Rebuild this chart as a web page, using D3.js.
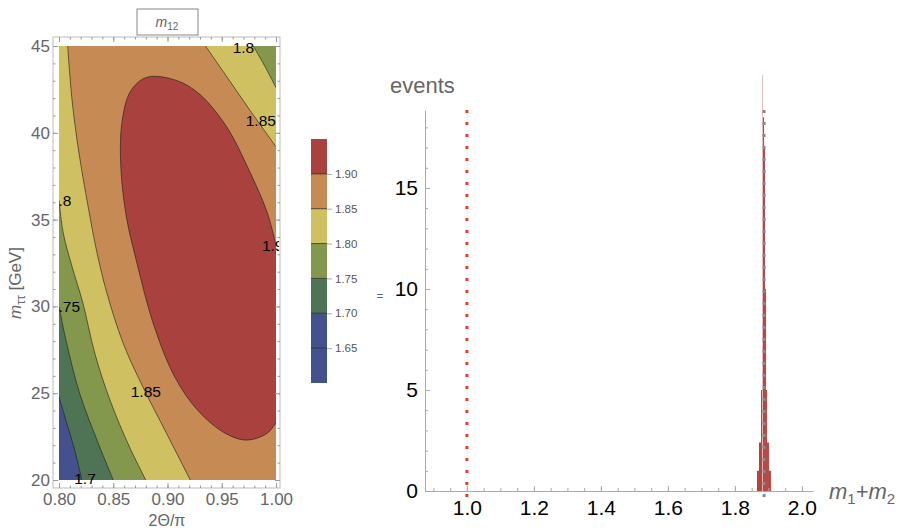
<!DOCTYPE html>
<html><head><meta charset="utf-8">
<script src="https://cdn.jsdelivr.net/npm/d3@7"></script>
<style>body{margin:0;background:#fff}svg{font-family:"Liberation Sans",Arial,sans-serif}</style>
</head><body><svg id="c" width="905" height="531"></svg>
<script>
// ---------- data: left contour panel ----------
const levels = [1.65, 1.70, 1.75, 1.80, 1.85, 1.90];
const colorbarEdges = [1.60, 1.65, 1.70, 1.75, 1.80, 1.85, 1.90, 1.95];
const colorbarColors = ["#43518d", "#43518d", "#4f7355", "#83984d", "#cfc162", "#c68a55", "#a9423e"];
const colorbarTicks = [1.65, 1.70, 1.75, 1.80, 1.85, 1.90];
const xTicksL = [0.80, 0.85, 0.90, 0.95, 1.00];
const yTicksL = [20, 25, 30, 35, 40, 45];
// contour lines, [2Θ/π, m_ττ]
const c170 = [[0.800, 24.8], [0.807, 23.3], [0.815, 21.6], [0.821, 20.0]];
const c175 = [[0.800, 30.0], [0.807, 27.9], [0.819, 25.0], [0.835, 22.3], [0.850, 20.0]];
const c180a = [[0.800, 36.1], [0.804, 34.2], [0.812, 32.3], [0.822, 30.2], [0.833, 27.3], [0.847, 24.6], [0.865, 21.9], [0.880, 20.0]];
const c180b = [[0.979, 45.0], [0.990, 43.8], [1.000, 42.6]];
const c185a = [[0.808, 45.0], [0.812, 41.9], [0.818, 39.0], [0.827, 35.7], [0.835, 33.1], [0.844, 30.8], [0.859, 27.9], [0.877, 25.4], [0.899, 22.7], [0.921, 20.0]];
const c185b = [[0.935, 45.0], [0.955, 43.2], [0.976, 41.3], [1.000, 39.2]];
const c190 = [[1.000, 33.5], [0.992, 35.4], [0.974, 38.0], [0.955, 40.3], [0.930, 42.2], [0.909, 43.0], [0.881, 43.2], [0.866, 42.4], [0.858, 40.6], [0.857, 38.0], [0.862, 35.2], [0.871, 32.7], [0.888, 28.8], [0.907, 25.9], [0.928, 24.0], [0.953, 22.7], [0.973, 22.3], [0.992, 22.7], [1.000, 23.3]];
// contour labels (as visible in the picture; edge labels are cut by the frame)
const contourLabels = [
  {t: "1.8", x: 0.970, y: 44.9, a: "middle"}, {t: "1.85", x: 0.986, y: 40.7, a: "middle"},
  {t: ".8", x: 0.7995, y: 36.1, a: "start"}, {t: "1.9", x: 0.987, y: 33.5, a: "start"},
  {t: ".75", x: 0.7995, y: 30.0, a: "start"}, {t: "1.85", x: 0.880, y: 25.1, a: "middle"},
  {t: "1.7", x: 0.824, y: 20.1, a: "middle"}
];
// ---------- data: right histogram ----------
const binWidth = 0.003;
const binLefts = [1.866, 1.869, 1.872, 1.875, 1.878, 1.881, 1.884, 1.887, 1.890, 1.893, 1.896, 1.899, 1.902, 1.905];
const binCounts = [1.0, 1.0, 2.4, 2.4, 5.0, 20.6, 18.5, 17.0, 10.0, 5.0, 2.4, 2.4, 1.0, 1.0];
const refValue = 1.0;
const trueValue = 1.887;
const xTicksR = [1.0, 1.2, 1.4, 1.6, 1.8, 2.0];
const yTicksR = [0, 5, 10, 15];

const svg = d3.select("#c");
const gray = "#666";

// ================= LEFT PANEL =================
const xL = d3.scaleLinear().domain([0.8, 1.0]).range([59, 276]);
const yL = d3.scaleLinear().domain([20, 45]).range([480, 46]);
const frame = {l: 53, t: 37, r: 280, b: 488};

svg.append("defs").html(
  `<clipPath id="plotclip"><rect x="${xL(0.8)}" y="${yL(45)}" width="${xL(1)-xL(0.8)}" height="${yL(20)-yL(45)}"/></clipPath>` +
  `<clipPath id="labclip"><rect x="57" y="${frame.t}" width="${279-57}" height="${frame.b-frame.t}"/></clipPath>`);

const lg = d3.line().x(d => xL(d[0])).y(d => yL(d[1])).curve(d3.curveCatmullRom.alpha(0.5));
const P = (x, y) => `L${xL(x)},${yL(y)}`;
const cont = pts => lg(pts).replace(/^M/, "L");

const gC = svg.append("g").attr("clip-path", "url(#plotclip)");
gC.append("rect").attr("x", xL(0.8)).attr("y", yL(45)).attr("width", xL(1) - xL(0.8)).attr("height", yL(20) - yL(45)).attr("fill", colorbarColors[1]);
const bands = [
  {fill: colorbarColors[2], d: lg(c170) + P(1, 20) + P(1, 45) + P(0.8, 45) + "Z"},
  {fill: colorbarColors[3], d: lg(c175) + P(1, 20) + P(1, 45) + P(0.8, 45) + "Z"},
  {fill: colorbarColors[4], d: lg(c180a) + P(1, 20) + P(1, 42.6) + cont(c180b.slice().reverse()) + P(0.8, 45) + "Z"},
  {fill: colorbarColors[5], d: lg(c185a) + P(1, 20) + P(1, 39.2) + cont(c185b.slice().reverse()) + "Z"},
  {fill: colorbarColors[6], d: lg(c190) + "Z"}
];
gC.selectAll("path.band").data(bands).join("path").attr("class", "band")
  .attr("d", d => d.d).attr("fill", d => d.fill).attr("stroke", "none");
gC.selectAll("path.cline").data([c170, c175, c180a, c180b, c185a, c185b, c190]).join("path").attr("class", "cline")
  .attr("d", d => lg(d)).attr("fill", "none").attr("stroke", "#1a1a1a").attr("stroke-opacity", 0.75).attr("stroke-width", 0.8);

svg.append("g").attr("clip-path", "url(#labclip)").selectAll("text").data(contourLabels).join("text")
  .attr("x", d => xL(d.x)).attr("y", d => yL(d.y)).attr("dy", "0.36em").attr("text-anchor", d => d.a)
  .attr("font-size", 15.5).attr("fill", "#000").text(d => d.t);

// frame with ticks
function styleAx(g, labels) {
  g.select(".domain").remove();
  g.selectAll(".tick line").attr("stroke", "#999");
  g.selectAll(".tick text").attr("font-size", 17).attr("fill", gray).attr("font-family", "Liberation Sans, Arial");
  if (!labels) g.selectAll(".tick text").remove();
}
svg.append("rect").attr("x", frame.l).attr("y", frame.t).attr("width", frame.r - frame.l).attr("height", frame.b - frame.t)
  .attr("fill", "none").attr("stroke", "#bbb").attr("stroke-width", 1);
const minorXL = d3.range(0.80, 1.001, 0.01);
const minorYL = d3.range(20, 45.01, 1);
svg.append("g").attr("transform", `translate(0,${frame.b})`).call(d3.axisBottom(xL).tickValues(xTicksL).tickFormat(d3.format(".2f")).tickSize(-5).tickPadding(5)).call(g => styleAx(g, true));
svg.append("g").attr("transform", `translate(0,${frame.b})`).call(d3.axisBottom(xL).tickValues(minorXL).tickSize(-2.5)).call(g => styleAx(g, false));
svg.append("g").attr("transform", `translate(0,${frame.t})`).call(d3.axisTop(xL).tickValues(xTicksL).tickSize(-5)).call(g => styleAx(g, false));
svg.append("g").attr("transform", `translate(0,${frame.t})`).call(d3.axisTop(xL).tickValues(minorXL).tickSize(-2.5)).call(g => styleAx(g, false));
svg.append("g").attr("transform", `translate(${frame.l},0)`).call(d3.axisLeft(yL).tickValues(yTicksL).tickSize(-5).tickPadding(3)).call(g => styleAx(g, true));
svg.append("g").attr("transform", `translate(${frame.l},0)`).call(d3.axisLeft(yL).tickValues(minorYL).tickSize(-2.5)).call(g => styleAx(g, false));
svg.append("g").attr("transform", `translate(${frame.r},0)`).call(d3.axisRight(yL).tickValues(yTicksL).tickSize(-5)).call(g => styleAx(g, false));
svg.append("g").attr("transform", `translate(${frame.r},0)`).call(d3.axisRight(yL).tickValues(minorYL).tickSize(-2.5)).call(g => styleAx(g, false));

// axis titles
svg.append("text").attr("x", 167).attr("y", 526).attr("text-anchor", "middle").attr("font-size", 16).attr("fill", gray).text("2Θ/π");
const yt = svg.append("text").attr("transform", "translate(21,283) rotate(-90)").attr("text-anchor", "middle").attr("font-size", 17).attr("fill", gray);
yt.append("tspan").attr("font-style", "italic").text("m");
yt.append("tspan").attr("font-size", 12).attr("dy", 4).text("ττ");
yt.append("tspan").attr("dy", -4).text(" [GeV]");
// plot title box
svg.append("rect").attr("x", 137).attr("y", 9).attr("width", 61).attr("height", 26).attr("fill", "#fff").attr("stroke", "#888");
const tt = svg.append("text").attr("x", 167).attr("y", 27).attr("text-anchor", "middle").attr("font-size", 14).attr("fill", gray);
tt.append("tspan").attr("font-style", "italic").text("m");
tt.append("tspan").attr("font-size", 10).attr("dy", 3).text("12");

// colorbar
const yC = d3.scaleLinear().domain([1.60, 1.95]).range([383, 139]);
const cb = svg.append("g");
cb.selectAll("rect").data(colorbarColors).join("rect")
  .attr("x", 311).attr("width", 16)
  .attr("y", (d, i) => yC(colorbarEdges[i + 1])).attr("height", (d, i) => yC(colorbarEdges[i]) - yC(colorbarEdges[i + 1]))
  .attr("fill", d => d);
cb.selectAll("line.lv").data(levels).join("line").attr("class", "lv")
  .attr("x1", 311).attr("x2", 327).attr("y1", d => yC(d)).attr("y2", d => yC(d))
  .attr("stroke", "#1a1a1a").attr("stroke-opacity", 0.7).attr("stroke-width", 1);
cb.append("g").attr("transform", "translate(327,0)").call(d3.axisRight(yC).tickValues(colorbarTicks).tickFormat(d3.format(".2f")).tickSize(5).tickPadding(3))
  .call(g => { g.select(".domain").remove(); g.selectAll(".tick line").attr("stroke", "#aaa");
    g.selectAll(".tick text").attr("font-size", 11.5).attr("fill", "#555").attr("font-family", "Liberation Sans, Arial"); });

svg.append("text").attr("x", 380).attr("y", 300).attr("text-anchor", "middle").attr("font-size", 12).attr("fill", "#4a6fa5").text("=");

// ================= RIGHT PANEL =================
const xR = d3.scaleLinear().domain([0.875, 2.033]).range([425, 813]);
const yR = d3.scaleLinear().domain([0, 18.86]).range([491, 110]);

// histogram
svg.append("g").selectAll("rect").data(binLefts).join("rect")
  .attr("x", d => xR(d)).attr("width", d => xR(d + binWidth) - xR(d))
  .attr("y", (d, i) => yR(binCounts[i])).attr("height", (d, i) => yR(0) - yR(binCounts[i]))
  .attr("fill", "#ad3c37").attr("fill-opacity", (d, i) => binCounts[i] > 19 ? 0.35 : 1).attr("stroke", "none");

// reference lines
svg.append("line").attr("x1", xR(refValue)).attr("x2", xR(refValue)).attr("y1", yR(18.86)).attr("y2", 500)
  .attr("stroke", "#ec3a2f").attr("stroke-width", 3).attr("stroke-dasharray", "3 9");
svg.append("line").attr("x1", xR(trueValue)).attr("x2", xR(trueValue)).attr("y1", yR(18.86)).attr("y2", 500)
  .attr("stroke", "#888").attr("stroke-width", 3).attr("stroke-dasharray", "3 9");

function styleR(g, labels) {
  g.select(".domain").attr("stroke", "#aaa");
  g.selectAll(".tick line").attr("stroke", "#aaa");
  g.selectAll(".tick text").attr("font-size", 21).attr("fill", "#000").attr("font-family", "Liberation Sans, Arial");
  if (!labels) { g.selectAll(".tick text").remove(); g.select(".domain").remove(); }
}
svg.append("g").attr("transform", "translate(0,491)").call(d3.axisBottom(xR).tickValues(xTicksR).tickFormat(d3.format(".1f")).tickSize(-5).tickSizeOuter(0).tickPadding(9)).call(g => styleR(g, true));
svg.append("g").attr("transform", "translate(0,491)").call(d3.axisBottom(xR).tickValues(d3.range(0.9, 2.03, 0.05)).tickSize(-3)).call(g => styleR(g, false));
svg.append("g").attr("transform", "translate(425,0)").call(d3.axisLeft(yR).tickValues(yTicksR).tickSize(-5).tickSizeOuter(0).tickPadding(7)).call(g => styleR(g, true));
svg.append("g").attr("transform", "translate(425,0)").call(d3.axisLeft(yR).tickValues(d3.range(1, 19, 1)).tickSize(-3)).call(g => styleR(g, false));

svg.append("text").attr("x", 390).attr("y", 93).attr("font-size", 22).attr("fill", gray).text("events");
const ml = svg.append("text").attr("x", 829).attr("y", 499).attr("font-size", 22).attr("fill", gray);
ml.append("tspan").attr("font-style", "italic").text("m");
ml.append("tspan").attr("font-size", 15).attr("dy", 5).text("1");
ml.append("tspan").attr("dy", -5).text("+");
ml.append("tspan").attr("font-style", "italic").text("m");
ml.append("tspan").attr("font-size", 15).attr("dy", 5).text("2");
</script></body></html>
